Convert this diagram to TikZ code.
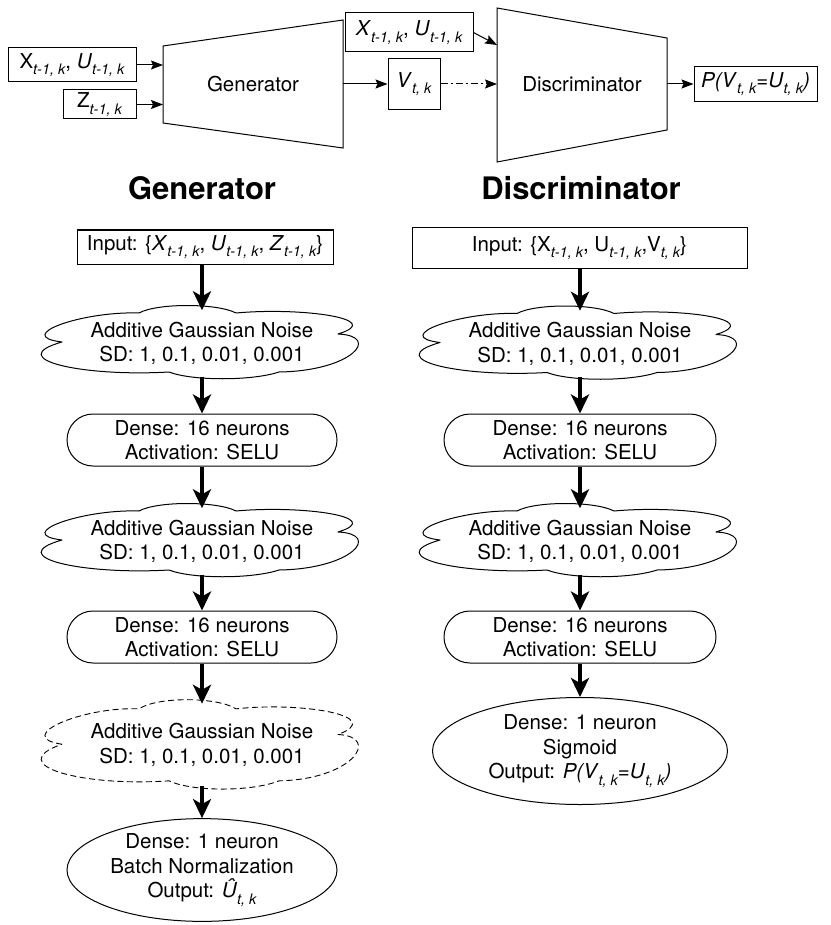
\documentclass[tikz,border=0pt]{standalone}
\usepackage{fontspec}
\setmainfont{TeX Gyre Heros}
\usetikzlibrary{arrows.meta,shapes.misc,shapes.geometric}
\newcommand\sbs[1]{\raisebox{-0.32em}{\fontsize{14.5}{14.5}\selectfont\itshape #1}}
\newcommand\cloudpath[4]{%
  \draw[#4, shift={(#1,#2)}, yscale=#3] (-140,1)
    .. controls (-190,-5) and (-120,-30) .. (-63,-28)
    .. controls (-45,-38) and (15,-38) .. (34,-28)
    .. controls (100,-34) and (185,-22) .. (136,-7)
    .. controls (180,-5) and (150,30) .. (77,31)
    .. controls (50,40) and (-10,40) .. (-33,31)
    .. controls (-120,36) and (-200,18) .. (-140,1) -- cycle;}
\begin{document}
\begin{tikzpicture}[x=1pt,y=-1pt,
  every node/.style={font=\fontsize{20.5}{24.5}\selectfont},
  box/.style={draw, line width=1pt, inner sep=0pt},
  cloudline/.style={line width=1pt, line join=round},
  noisebox/.style={rectangle, minimum width=322pt, minimum height=66pt, inner sep=0pt, align=center},
  densebox/.style={rounded rectangle, draw, line width=1pt, minimum width=270pt, minimum height=52pt, inner sep=0pt, align=center},
  outbox/.style={ellipse, draw, line width=1pt, inner sep=0pt, align=center},
  bigarrow/.style={line width=4.2pt, -{Stealth[length=19pt,width=18pt,inset=5pt]}},
  thinarrow/.style={line width=1pt, -{Stealth[length=12pt,width=9pt,inset=2pt]}},
  header/.style={font=\fontsize{31}{31}\selectfont\bfseries}
]
\useasboundingbox (0,0) rectangle (830,925);
% ---------- top overview ----------
\node[box, minimum width=128pt, minimum height=34pt] (xu1) at (72,65) {X\sbs{t-1, k}, \textit{U}\sbs{t-1, k}};
\node[box, minimum width=73pt, minimum height=29pt] (z1) at (99.5,104.5) {Z\sbs{t-1, k}};
\draw[line width=1pt] (163,46) -- (343,20) -- (343,148) -- (163,123) -- cycle;
\node (gen) at (253,84) {Generator};
\coordinate (gin1) at (163,65);
\coordinate (gin2) at (163,104.5);
\coordinate (gout) at (343,84);
\draw[thinarrow] (xu1.east) -- (gin1);
\draw[thinarrow] (z1.east) -- (gin2);
\node[box, minimum width=52pt, minimum height=51pt] (v) at (414,84) {\textit{V}\sbs{t, k}};
\draw[thinarrow] (gout) -- (v.west);
\node[box, minimum width=128pt, minimum height=39pt] (xu2) at (409,32.5) {\textit{X}\sbs{t-1, k}, \textit{U}\sbs{t-1, k}};
\draw[line width=1pt] (497,8) -- (667,38) -- (667,130) -- (497,162) -- cycle;
\node (disc) at (582,84) {Discriminator};
\coordinate (din1) at (497,45);
\coordinate (din2) at (497,84);
\coordinate (dout) at (667,84);
\draw[thinarrow] (xu2.east) -- (din1);
\draw[thinarrow, dash pattern=on 7pt off 3pt on 2pt off 3pt] (v.east) -- (din2);
\node[box, minimum width=123pt, minimum height=35pt] (p) at (755.5,84) {\textit{P(V}\sbs{t, k}\textit{=U}\sbs{t, k}\textit{)}};
\draw[thinarrow] (dout) -- (p.west);
% ---------- headers ----------
\node[header] (hg) at (202,188) {Generator};
\node[header] (hd) at (581,188) {Discriminator};
% ---------- generator column ----------
\node[box, minimum width=256pt, minimum height=34pt] (gi) at (205,247) {Input: \{\textit{X}\sbs{t-1, k}, \textit{U}\sbs{t-1, k}, \textit{Z}\sbs{t-1, k}\}};
\cloudpath{202}{341}{1}{cloudline}
\node[noisebox] (gc1) at (202,343.5) {Additive Gaussian Noise\\SD: 1, 0.1, 0.01, 0.001};
\node[densebox] (gd1) at (202,440) {Dense: 16 neurons\\Activation: SELU};
\cloudpath{202}{539}{1}{cloudline}
\node[noisebox] (gc2) at (202,541.5) {Additive Gaussian Noise\\SD: 1, 0.1, 0.01, 0.001};
\node[densebox] (gd2) at (202,637) {Dense: 16 neurons\\Activation: SELU};
\cloudpath{202}{743}{1.22}{cloudline, line width=0.9pt, dash pattern=on 6pt off 3.5pt}
\node[noisebox, minimum height=82pt] (gc3) at (202,745) {Additive Gaussian Noise\\SD: 1, 0.1, 0.01, 0.001};
\node[outbox, minimum width=270pt, minimum height=94pt] (go) at (202,870) {Dense: 1 neuron\\Batch Normalization\\Output: \textit{\^U}\sbs{t, k}};
\draw[bigarrow] (gi.south -| gc1.north) -- (gc1.north);
\draw[bigarrow] (gc1.south) -- (gd1.north);
\draw[bigarrow] (gd1.south) -- (gc2.north);
\draw[bigarrow] (gc2.south) -- (gd2.north);
\draw[bigarrow] (gd2.south) -- (gc3.north);
\draw[bigarrow] (gc3.south) -- (go.north);
% ---------- discriminator column ----------
\node[box, minimum width=335pt, minimum height=40pt] (di) at (579.5,248) {Input: \{X\sbs{t-1, k}, U\sbs{t-1, k},V\sbs{t, k}\}};
\cloudpath{580}{341.5}{1}{cloudline}
\node[noisebox] (dc1) at (580,344) {Additive Gaussian Noise\\SD: 1, 0.1, 0.01, 0.001};
\node[densebox, minimum width=272pt] (dd1) at (580,440) {Dense: 16 neurons\\Activation: SELU};
\cloudpath{580}{539}{1}{cloudline}
\node[noisebox] (dc2) at (580,541.5) {Additive Gaussian Noise\\SD: 1, 0.1, 0.01, 0.001};
\node[densebox, minimum width=272pt] (dd2) at (580,637) {Dense: 16 neurons\\Activation: SELU};
\node[outbox, minimum width=295pt, minimum height=107pt] (dout2) at (580,751) {Dense: 1 neuron\\Sigmoid\\Output: \textit{P(V}\sbs{t, k}\textit{=U}\sbs{t, k}\textit{)}};
\draw[bigarrow] (di.south -| dc1.north) -- (dc1.north);
\draw[bigarrow] (dc1.south) -- (dd1.north);
\draw[bigarrow] (dd1.south) -- (dc2.north);
\draw[bigarrow] (dc2.south) -- (dd2.north);
\draw[bigarrow] (dd2.south) -- (dout2.north);
\end{tikzpicture}
\end{document}
